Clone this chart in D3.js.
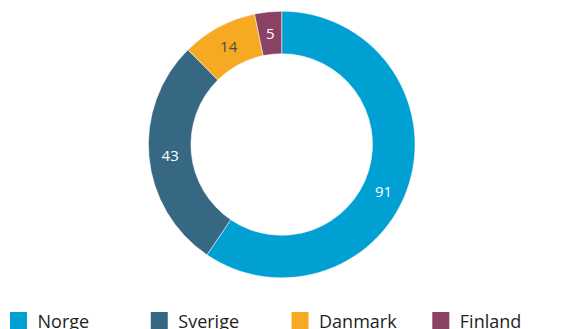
<!DOCTYPE html>
<html>
<head>
<meta charset="utf-8">
<script src="https://cdn.jsdelivr.net/npm/d3@7"></script>
<style>
  html, body { margin: 0; padding: 0; background: #fff; }
  svg { display: block; font-family: "Open Sans", "Noto Sans", sans-serif; }
</style>
</head>
<body>
<svg id="chart" width="566" height="329"></svg>
<script>
const categories = ["Norge", "Sverige", "Danmark", "Finland"];
const values = [91, 43, 14, 5];
const colors = ["#00a0d3", "#376883", "#f6aa24", "#8a4265"];
const labelColors = ["#ffffff", "#ffffff", "#4a4a4a", "#ffffff"];

const svg = d3.select("#chart");
const cx = 281.7, cy = 144.5;
const outerR = 133.3, innerR = 90.8;

const data = categories.map((c, i) => ({ name: c, value: values[i], i }));

const pie = d3.pie().value(d => d.value).sort(null);
const arcs = pie(data);
const arc = d3.arc().innerRadius(innerR).outerRadius(outerR);

const g = svg.append("g").attr("transform", `translate(${cx},${cy})`);

g.selectAll("path.slice")
  .data(arcs)
  .join("path")
  .attr("class", "slice")
  .attr("d", arc)
  .attr("fill", d => colors[d.data.i])
  .attr("stroke", "#fff")
  .attr("stroke-width", 0.5);

// Value labels inside the ring; the widest slice puts its label a bit further along the arc
const midR = (innerR + outerR) / 2;
g.selectAll("text.val")
  .data(arcs)
  .join("text")
  .attr("class", "val")
  .each(function(d) {
    const span = d.endAngle - d.startAngle;
    const frac = span > Math.PI ? 0.535 : 0.5;
    const a = d.startAngle + span * frac;
    d3.select(this)
      .attr("x", midR * Math.sin(a))
      .attr("y", -midR * Math.cos(a));
  })
  .attr("text-anchor", "middle")
  .attr("dominant-baseline", "central")
  .attr("font-size", 15)
  .attr("fill", d => labelColors[d.data.i])
  .text(d => d.data.value);

// Legend along the bottom edge
const legendX = d3.scalePoint().domain(categories).range([10, 432.3]);
const leg = svg.append("g").selectAll("g")
  .data(categories)
  .join("g")
  .attr("transform", d => `translate(${legendX(d)},312)`);

leg.append("rect")
  .attr("width", 17)
  .attr("height", 17)
  .attr("fill", (d, i) => colors[i]);

leg.append("text")
  .attr("x", 27.5)
  .attr("y", 16)
  .attr("font-size", 18)
  .attr("fill", "#1e1e1e")
  .text(d => d);
</script>
</body>
</html>
